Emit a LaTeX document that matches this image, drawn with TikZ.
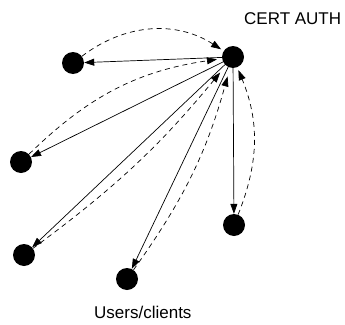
\documentclass[tikz,border=0pt]{standalone}
\usepackage{fontspec}
\setmainfont{Liberation Sans}
\usetikzlibrary{arrows.meta}

\begin{document}
\begin{tikzpicture}[x=1pt,y=-1pt,
  dot/.style={circle,fill=black,inner sep=0pt,minimum size=22pt},
  label/.style={inner sep=0pt,font=\fontsize{17}{20}\selectfont},
  issue/.style={line width=0.7pt,-{Triangle[length=10pt,width=7pt]}},
  request/.style={line width=0.7pt,dash pattern=on 5pt off 4pt,-{Triangle[length=10pt,width=7pt]},shorten >=3pt}]
\useasboundingbox (0,0) rectangle (345,324);
% authority and its clients
\node [dot] (ca) at (233,57) {};
\node [dot] (u1) at (73,63) {};
\node [dot] (u2) at (21,162) {};
\node [dot] (u3) at (24,255) {};
\node [dot] (u4) at (127,279) {};
\node [dot] (u5) at (234,225) {};
\node [label,anchor=base west] (calabel) at (244,24) {CERT AUTH};
\node [label,anchor=base west] (userlabel) at (94,318) {Users/clients};
% certificates going out
\draw [issue] (ca) -- (u1);
\draw [issue] (ca) -- (u2);
\draw [issue] (ca) -- (u3);
\draw [issue] (ca) -- (u4);
\draw [issue] (ca) -- (u5);
% requests coming in
\draw [request] (u1) to [bend left=35] (ca);
\draw [request,shorten >=5pt] (u2) to [bend left=18] (ca);
\draw [request,shorten >=9pt] (u3) to [bend right=7] (ca);
\draw [request,shorten >=9pt] (u4) to [bend right=10] (ca);
\draw [request] (u5) to [bend right=22] (ca);
\end{tikzpicture}
\end{document}
